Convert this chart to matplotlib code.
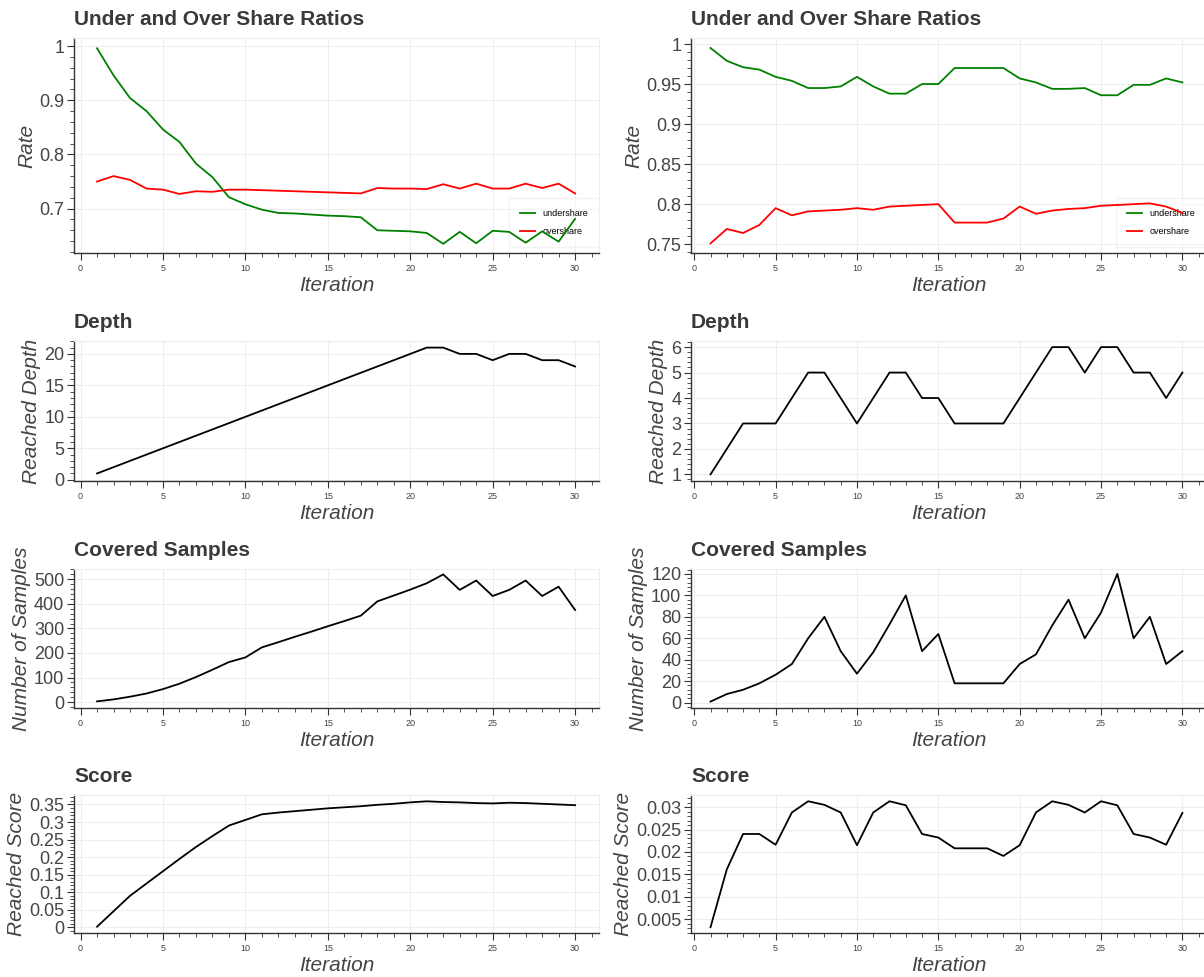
import numpy as np
import matplotlib
matplotlib.use("Agg")
import matplotlib.pyplot as plt
from matplotlib.ticker import MultipleLocator, AutoMinorLocator, FuncFormatter

plt.rcParams['font.family'] = ['Liberation Sans', 'DejaVu Sans']

iters = list(range(1, 31))

# left run
under_l = [0.996, 0.946, 0.904, 0.880, 0.846, 0.823, 0.783, 0.758, 0.721, 0.708,
           0.698, 0.692, 0.691, 0.689, 0.687, 0.686, 0.684, 0.660, 0.659, 0.658,
           0.655, 0.635, 0.657, 0.636, 0.659, 0.657, 0.637, 0.658, 0.639, 0.681]
over_l = [0.750, 0.760, 0.753, 0.737, 0.735, 0.727, 0.732, 0.731, 0.735, 0.735,
          0.734, 0.733, 0.732, 0.731, 0.730, 0.729, 0.728, 0.738, 0.737, 0.737,
          0.736, 0.745, 0.737, 0.746, 0.737, 0.737, 0.746, 0.738, 0.746, 0.728]
depth_l = [1, 2, 3, 4, 5, 6, 7, 8, 9, 10, 11, 12, 13, 14, 15, 16, 17, 18, 19, 20,
           21, 21, 20, 20, 19, 20, 20, 19, 19, 18]
samples_l = [3, 11, 22, 35, 53, 75, 102, 132, 163, 182, 223, 244, 266, 287, 309,
             330, 352, 410, 434, 458, 484, 520, 457, 495, 432, 457, 495, 432, 470, 375]
score_l = [0.002, 0.046, 0.090, 0.125, 0.160, 0.195, 0.229, 0.260, 0.290, 0.306,
           0.322, 0.327, 0.331, 0.335, 0.339, 0.342, 0.345, 0.349, 0.352, 0.356,
           0.359, 0.357, 0.356, 0.354, 0.353, 0.355, 0.354, 0.352, 0.350, 0.348]

# right run
under_r = [0.995, 0.979, 0.971, 0.968, 0.959, 0.954, 0.945, 0.945, 0.947, 0.959,
           0.947, 0.938, 0.938, 0.950, 0.950, 0.970, 0.970, 0.970, 0.970, 0.957,
           0.952, 0.944, 0.944, 0.945, 0.936, 0.936, 0.949, 0.949, 0.957, 0.952]
over_r = [0.751, 0.769, 0.764, 0.774, 0.795, 0.786, 0.791, 0.792, 0.793, 0.795,
          0.793, 0.797, 0.798, 0.799, 0.800, 0.777, 0.777, 0.777, 0.782, 0.797,
          0.788, 0.792, 0.794, 0.795, 0.798, 0.799, 0.800, 0.801, 0.797, 0.789]
depth_r = [1, 2, 3, 3, 3, 4, 5, 5, 4, 3, 4, 5, 5, 4, 4, 3, 3, 3, 3, 4,
           5, 6, 6, 5, 6, 6, 5, 5, 4, 5]
samples_r = [1, 8, 12, 18, 26, 36, 60, 80, 48, 27, 47, 73, 100, 48, 64, 18, 18, 18,
             18, 36, 45, 72, 96, 60, 84, 120, 60, 80, 36, 48]
score_r = [0.0032, 0.0161, 0.0240, 0.0240, 0.0216, 0.0288, 0.0313, 0.0305, 0.0288,
           0.0215, 0.0288, 0.0313, 0.0304, 0.0240, 0.0232, 0.0208, 0.0208, 0.0208,
           0.0191, 0.0215, 0.0288, 0.0313, 0.0305, 0.0288, 0.0313, 0.0304, 0.0240,
           0.0232, 0.0216, 0.0287]

W, H = 1204, 977
fig = plt.figure(figsize=(W / 100, H / 100), dpi=100)

cols = [(74, 599, -0.4), (691, 1206, -0.2)]
rows = [(38, 253), (341, 481), (569, 708), (795, 933)]

txt = '#444444'
fmt = FuncFormatter(lambda v, p: ('%.3f' % v).rstrip('0').rstrip('.'))


def make_ax(ci, ri, title, ylabel, ylim, ystep):
    x0, x1, xmin = cols[ci]
    top, bot = rows[ri]
    ax = fig.add_axes([x0 / W, 1 - bot / H, (x1 - x0) / W, (bot - top) / H])
    ax.set_xlim(xmin, 31.45)
    ax.set_ylim(*ylim)
    ax.xaxis.set_major_locator(MultipleLocator(5))
    ax.xaxis.set_minor_locator(MultipleLocator(1))
    ax.yaxis.set_major_locator(MultipleLocator(ystep))
    ax.yaxis.set_minor_locator(AutoMinorLocator(5))
    ax.yaxis.set_major_formatter(fmt)
    ax.grid(True, which='major', color='#eeeeee', lw=0.8)
    ax.set_axisbelow(True)
    for s in ['top', 'right']:
        ax.spines[s].set_color('#eeeeee')
    for s in ['left', 'bottom']:
        ax.spines[s].set_color('#333333')
        ax.spines[s].set_linewidth(1.0)
    ax.tick_params(axis='x', which='major', length=5, labelsize=6.5, colors='#333333',
                   labelcolor=txt, pad=3)
    ax.tick_params(axis='x', which='minor', length=3, colors='#333333')
    ax.tick_params(axis='y', which='major', length=5, labelsize=13, colors='#333333',
                   labelcolor=txt, pad=2)
    ax.tick_params(axis='y', which='minor', length=3, colors='#333333')
    ax.set_title(title, loc='left', fontsize=15, fontweight='bold', color='#3a3a3a', pad=9)
    ax.set_xlabel('Iteration', fontsize=15, style='italic', color=txt, labelpad=2)
    ax.set_ylabel(ylabel, fontsize=15, style='italic', color=txt, labelpad=2)
    return ax


def add_legend(ax):
    leg = ax.legend(loc='lower right', bbox_to_anchor=(1.0, 0.03), borderaxespad=0,
                    fontsize=6.5, frameon=True, fancybox=False, edgecolor='#e8e8e8',
                    handlelength=1.7, labelspacing=1.0, borderpad=1.2, framealpha=0.5)
    leg.set_zorder(1.5)


lw = 1.3

ax = make_ax(0, 0, 'Under and Over Share Ratios', 'Rate', (0.618, 1.015), 0.1)
ax.plot(iters, under_l, color='green', lw=lw, label='undershare', zorder=2)
ax.plot(iters, over_l, color='red', lw=lw, label='overshare', zorder=2)
add_legend(ax)

ax = make_ax(1, 0, 'Under and Over Share Ratios', 'Rate', (0.739, 1.0075), 0.05)
ax.plot(iters, under_r, color='green', lw=lw, label='undershare', zorder=2)
ax.plot(iters, over_r, color='red', lw=lw, label='overshare', zorder=2)
add_legend(ax)

ax = make_ax(0, 1, 'Depth', 'Reached Depth', (-0.2, 22.05), 5)
ax.plot(iters, depth_l, color='black', lw=lw)
ax = make_ax(1, 1, 'Depth', 'Reached Depth', (0.74, 6.24), 1)
ax.plot(iters, depth_r, color='black', lw=lw)

ax = make_ax(0, 2, 'Covered Samples', 'Number of Samples', (-24, 542), 100)
ax.plot(iters, samples_l, color='black', lw=lw)
ax = make_ax(1, 2, 'Covered Samples', 'Number of Samples', (-5, 124.6), 20)
ax.plot(iters, samples_r, color='black', lw=lw)

ax = make_ax(0, 3, 'Score', 'Reached Score', (-0.016, 0.377), 0.05)
ax.plot(iters, score_l, color='black', lw=lw)
ax = make_ax(1, 3, 'Score', 'Reached Score', (0.0019, 0.0327), 0.005)
ax.plot(iters, score_r, color='black', lw=lw)

fig.savefig('out.png', dpi=100)
